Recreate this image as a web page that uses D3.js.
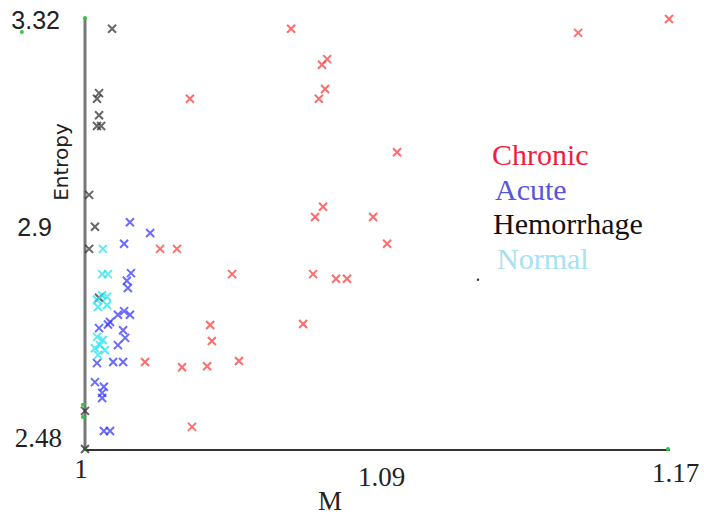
<!DOCTYPE html>
<html>
<head>
<meta charset="utf-8">
<script src="https://cdn.jsdelivr.net/npm/d3@7"></script>
<style>
  body { margin: 0; background: #fff; }
  svg { display: block; }
</style>
</head>
<body>
<script>
/* values: [M, Entropy] */
const chronic = [
  [1.0601, 3.299], [1.1438, 3.291], [1.1703, 3.318], [1.0306, 3.163], [1.0691, 3.229],
  [1.0706, 3.240], [1.0700, 3.182], [1.0682, 3.163], [1.0910, 3.059], [1.0694, 2.953],
  [1.0671, 2.933], [1.0840, 2.933], [1.0881, 2.881], [1.0665, 2.822], [1.0732, 2.813],
  [1.0764, 2.813], [1.0636, 2.725], [1.0219, 2.871], [1.0268, 2.871], [1.0429, 2.822],
  [1.0365, 2.723], [1.0370, 2.692], [1.0175, 2.651], [1.0283, 2.641], [1.0356, 2.643],
  [1.0449, 2.653], [1.0312, 2.525]
];
const acute = [
  [1.0131, 2.923], [1.0190, 2.902], [1.0114, 2.881], [1.0134, 2.824], [1.0122, 2.809],
  [1.0125, 2.795], [1.0114, 2.750], [1.0096, 2.743], [1.0131, 2.743], [1.0073, 2.729],
  [1.0041, 2.717], [1.0111, 2.713], [1.0117, 2.698], [1.0096, 2.684], [1.0035, 2.649],
  [1.0082, 2.651], [1.0111, 2.651], [1.0029, 2.612], [1.0055, 2.603], [1.0050, 2.591],
  [1.0050, 2.581], [1.0055, 2.517], [1.0073, 2.517], [1.0067, 2.724]
];
const hemorrhage = [
  [1.0079, 3.299], [1.0041, 3.174], [1.0035, 3.163], [1.0041, 3.131], [1.0035, 3.110],
  [1.0047, 3.110], [1.0012, 2.976], [1.0029, 2.914], [1.0012, 2.871], [1.0041, 2.776],
  [1.0000, 2.556], [1.0000, 2.482]
];
const normal = [
  [1.0052, 2.871], [1.0050, 2.822], [1.0067, 2.822], [1.0050, 2.781], [1.0064, 2.778],
  [1.0035, 2.772], [1.0038, 2.758], [1.0064, 2.762], [1.0035, 2.700], [1.0052, 2.694],
  [1.0044, 2.684], [1.0029, 2.678], [1.0058, 2.674], [1.0038, 2.665]
];
/* small stray dots seen in the picture */
const strayBlack = [[1.1146, 2.811]];
const strayGreen = [[1.0, 3.32], [0.9816, 3.293], [0.9994, 2.568], [0.9994, 2.544], [1.0, 2.482], [1.17, 2.482]];

const seriesNames = ['Chronic', 'Acute', 'Hemorrhage', 'Normal'];
const xTicks = [1, 1.09, 1.17];
const yTicks = [2.48, 2.9, 3.32];

const width = 704, height = 518;
const markColor = { Chronic: '#ff3b3b', Acute: '#3a3aff', Hemorrhage: '#333', Normal: '#22e4f0' };
const legendColor = { Chronic: '#f01e3c', Acute: '#5656e0', Hemorrhage: '#111', Normal: '#a6e2f0' };

const svg = d3.select('body').append('svg')
    .attr('width', width)
    .attr('height', height);

const x = d3.scaleLinear().domain([1, 1.17]).range([85, 668]);
const y = d3.scaleLinear().domain([2.48, 3.32]).range([450, 18]);

/* axes: the tick labels sit a bit irregularly in the original */
const xNudge = { 1: [-4.5, 0], 1.09: [-12.5, 8], 1.17: [7, 4] };
const yNudge = { 2.48: [2, -12, 'serif'], 2.9: [-8, -7, 'sans'], 3.32: [0, 2, 'sans'] };

const xAxis = svg.append('g')
    .attr('transform', `translate(0, ${y(2.48)})`)
    .call(d3.axisBottom(x).tickValues(xTicks).tickSize(0).tickSizeOuter(0).tickPadding(9)
        .tickFormat(d3.format('')));
xAxis.select('.domain').attr('stroke', '#333').attr('stroke-width', 2)
    .attr('d', `M${x(1)},0H${x(1.17) + 2}`);
xAxis.selectAll('text')
    .attr('font-family', '"Liberation Serif", serif')
    .attr('font-size', 27)
    .attr('fill', '#222')
    .attr('dx', d => xNudge[d][0])
    .attr('dy', d => (xNudge[d][1] + 19) + 'px');

const yAxis = svg.append('g')
    .attr('transform', `translate(${x(1)}, 0)`)
    .call(d3.axisLeft(y).tickValues(yTicks).tickSize(0).tickSizeOuter(0).tickPadding(25)
        .tickFormat(d3.format('')));
yAxis.select('.domain').attr('stroke', '#777').attr('stroke-width', 3)
    .attr('d', `M0,${y(3.32) - 1}V${y(2.48)}`);
yAxis.selectAll('text')
    .attr('font-family', d => yNudge[d][2] === 'serif' ? '"Liberation Serif", serif' : '"Liberation Sans", sans-serif')
    .attr('font-size', d => yNudge[d][2] === 'serif' ? 27 : 25)
    .attr('fill', '#222')
    .attr('dx', d => yNudge[d][0])
    .attr('dy', d => (yNudge[d][1] + 8) + 'px');

/* axis titles */
svg.append('text')
    .attr('x', 330).attr('y', 510)
    .attr('text-anchor', 'middle')
    .attr('font-family', '"Liberation Serif", serif')
    .attr('font-size', 27)
    .attr('fill', '#222')
    .text('M');

svg.append('text')
    .attr('transform', 'translate(68, 162) rotate(-90)')
    .attr('text-anchor', 'middle')
    .attr('font-family', '"DejaVu Sans", sans-serif')
    .attr('font-size', 20)
    .attr('fill', '#222')
    .text('Entropy');

/* stray dots */
svg.append('g').selectAll('circle')
    .data(strayGreen)
    .join('circle')
    .attr('cx', d => x(d[0]))
    .attr('cy', d => y(d[1]))
    .attr('r', 2)
    .attr('fill', '#2ecc40');

svg.append('g').selectAll('circle')
    .data(strayBlack)
    .join('circle')
    .attr('cx', d => x(d[0]))
    .attr('cy', d => y(d[1]))
    .attr('r', 1.2)
    .attr('fill', '#333');

/* x markers for each group */
const cross = 'M-4,-4L4,4M-4,4L4,-4';
const groups = [['Chronic', chronic], ['Acute', acute], ['Hemorrhage', hemorrhage], ['Normal', normal]];

groups.forEach(([name, pts]) => {
    svg.append('g')
        .attr('class', 'series')
        .selectAll('path')
        .data(pts)
        .join('path')
        .attr('transform', d => `translate(${x(d[0])}, ${y(d[1])})`)
        .attr('d', cross)
        .attr('fill', 'none')
        .attr('stroke', markColor[name])
        .attr('stroke-width', 2)
        .attr('stroke-opacity', 0.75);
});

/* legend, plain coloured words */
const legendX = [492, 495, 493, 497];
svg.append('g').selectAll('text')
    .data(seriesNames)
    .join('text')
    .attr('x', (d, i) => legendX[i])
    .attr('y', (d, i) => 165 + i * 34.5)
    .attr('font-family', '"Liberation Serif", "Times New Roman", serif')
    .attr('font-size', 30)
    .attr('fill', d => legendColor[d])
    .text(d => d);
</script>
</body>
</html>
